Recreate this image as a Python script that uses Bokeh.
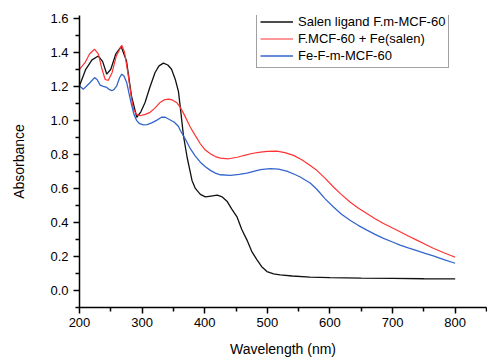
from bokeh.plotting import figure
from bokeh.models import FixedTicker, Legend, LegendItem, PrintfTickFormatter
from bokeh.embed import file_html
from bokeh.resources import INLINE

# Salen ligand F.m-MCF-60
wl_black = [200, 210, 220, 230, 237, 243.6, 250, 258, 266.5, 275, 283, 291.4, 298, 304.7, 312,
            320.7, 327, 334, 341, 347, 353, 358, 361, 366, 372, 379.7, 385, 393, 401, 410, 420,
            428, 435.5, 443, 451.5, 459, 467.5, 475, 483.5, 491, 499.4, 510, 520.5, 540, 568,
            600, 650, 700, 750, 800]
abs_black = [1.203, 1.30, 1.355, 1.378, 1.345, 1.271, 1.30, 1.39, 1.433, 1.35, 1.144, 1.018, 1.05,
             1.105, 1.19, 1.281, 1.32, 1.336, 1.325, 1.30, 1.24, 1.17, 1.076, 0.91, 0.78, 0.647,
             0.60, 0.565, 0.55, 0.555, 0.56, 0.55, 0.525, 0.48, 0.433, 0.36, 0.296, 0.23, 0.18,
             0.14, 0.111, 0.098, 0.092, 0.085, 0.079, 0.076, 0.073, 0.071, 0.069, 0.068]

# F.MCF-60 + Fe(salen)
wl_red = [200, 209, 216, 224, 230, 236, 241, 246, 252, 259, 267.5, 272, 278, 283, 286, 291, 296.8,
          305, 312.7, 320, 328.7, 335, 342, 348, 355, 361, 367, 377, 385, 393, 401, 409,
          417, 425, 438, 452, 462, 475, 489, 500, 515, 528, 541.8, 555, 568.4, 579, 592,
          605.6, 618, 632, 645, 658.9, 672, 685.5, 700, 712, 725, 738.6, 752, 765, 782, 800]
abs_red = [1.30, 1.34, 1.39, 1.418, 1.39, 1.30, 1.24, 1.235, 1.28, 1.38, 1.441, 1.40, 1.26, 1.13,
           1.067, 1.035, 1.027, 1.035, 1.047, 1.07, 1.105, 1.12, 1.125, 1.12, 1.105, 1.076, 1.035,
           0.959, 0.91, 0.862, 0.825, 0.803, 0.787, 0.778, 0.774, 0.783, 0.793, 0.805, 0.813, 0.817,
           0.819, 0.81, 0.794, 0.768, 0.735, 0.706, 0.66, 0.608, 0.565, 0.52, 0.485, 0.453, 0.422,
           0.394, 0.367, 0.345, 0.32, 0.296, 0.272, 0.248, 0.222, 0.195]

# Fe-F-m-MCF-60
wl_blue = [200, 206, 211, 217, 224, 228, 233, 238, 243.6, 248, 251.6, 255, 259.5, 264, 267.5, 271,
           275.4, 279, 283.4, 287, 291.4, 296, 302, 308, 315.3, 323, 331, 337, 345, 351, 357.9,
           361, 369, 377, 385, 393, 401, 409, 417, 425, 441, 455, 467.5, 489, 504.6, 518,
           531, 545, 552.5, 568.4, 579, 592, 605.6, 618, 632, 645, 659, 672, 685.5, 700, 712,
           725, 738.6, 752, 765, 782, 800]
abs_blue = [1.203, 1.183, 1.20, 1.222, 1.251, 1.24, 1.207, 1.20, 1.193, 1.18, 1.174, 1.18, 1.203,
            1.25, 1.271, 1.26, 1.222, 1.16, 1.086, 1.035, 0.998, 0.98, 0.973, 0.975, 0.985, 1.00,
            1.018, 1.018, 1.002, 0.99, 0.965, 0.94, 0.89, 0.833, 0.79, 0.754, 0.727, 0.706, 0.69,
            0.68, 0.677, 0.682, 0.69, 0.71, 0.716, 0.713, 0.702, 0.68, 0.667, 0.632, 0.595,
            0.54, 0.491, 0.45, 0.413, 0.383, 0.355, 0.33, 0.306, 0.285, 0.267, 0.25, 0.234, 0.218,
            0.203, 0.182, 0.160]

series_labels = ["Salen ligand F.m-MCF-60", "F.MCF-60 + Fe(salen)", "Fe-F-m-MCF-60"]
x_major = [200, 300, 400, 500, 600, 700, 800]
x_minor = [250, 350, 450, 550, 650, 750, 850]
y_major = [0.0, 0.2, 0.4, 0.6, 0.8, 1.0, 1.2, 1.4, 1.6]
y_minor = [-0.1, 0.1, 0.3, 0.5, 0.7, 0.9, 1.1, 1.3, 1.5]

FONT = "Liberation Sans"

p = figure(width=487, height=359, output_backend="svg", toolbar_location=None,
           x_range=(200, 850), y_range=(-0.1, 1.616),
           min_border_left=79, min_border_right=1, min_border_top=15, min_border_bottom=51)
p.outline_line_color = None
p.xgrid.visible = False
p.ygrid.visible = False
p.background_fill_color = "white"
p.border_fill_color = "white"

r1 = p.line(wl_black, abs_black, line_color="#111111", line_width=1.3)
r2 = p.line(wl_red, abs_red, line_color="#ff3333", line_width=1.2)
r3 = p.line(wl_blue, abs_blue, line_color="#3366cc", line_width=1.3)

for ax in (p.xaxis[0], p.yaxis[0]):
    ax.axis_line_width = 1.5
    ax.axis_line_color = "black"
    ax.major_tick_line_color = "black"
    ax.minor_tick_line_color = "black"
    ax.major_tick_line_width = 1.5
    ax.minor_tick_line_width = 1.5
    ax.major_tick_out = 6
    ax.major_tick_in = 0
    ax.minor_tick_out = 4
    ax.minor_tick_in = 0
    ax.major_label_text_font = FONT
    ax.major_label_text_font_size = "13px"
    ax.major_label_text_color = "black"
    ax.axis_label_text_font = FONT
    ax.axis_label_text_font_size = "14px"
    ax.axis_label_text_font_style = "normal"
    ax.axis_label_text_color = "black"

p.xaxis.ticker = FixedTicker(ticks=x_major, minor_ticks=x_minor)
p.yaxis.ticker = FixedTicker(ticks=y_major, minor_ticks=y_minor)
p.yaxis.formatter = PrintfTickFormatter(format="%.1f")
p.xaxis.axis_label = "Wavelength (nm)"
p.yaxis.axis_label = "Absorbance"
p.xaxis.major_label_standoff = 4
p.yaxis.major_label_standoff = 5
p.xaxis.axis_label_standoff = 11
p.yaxis.axis_label_standoff = 20

legend = Legend(items=[LegendItem(label=series_labels[0], renderers=[r1]),
                       LegendItem(label=series_labels[1], renderers=[r2]),
                       LegendItem(label=series_labels[2], renderers=[r3])],
                location=(177, 239))
legend.label_text_font = FONT
legend.label_text_font_size = "13px"
legend.label_text_color = "black"
legend.label_height = 17
legend.glyph_height = 17
legend.glyph_width = 33
legend.label_standoff = 5
legend.spacing = 0
legend.padding = 3
legend.margin = 0
legend.border_line_color = "#444444"
legend.border_line_width = 1
legend.background_fill_alpha = 1
p.add_layout(legend, "center")

open("out.html", "w").write(file_html(p, INLINE))
